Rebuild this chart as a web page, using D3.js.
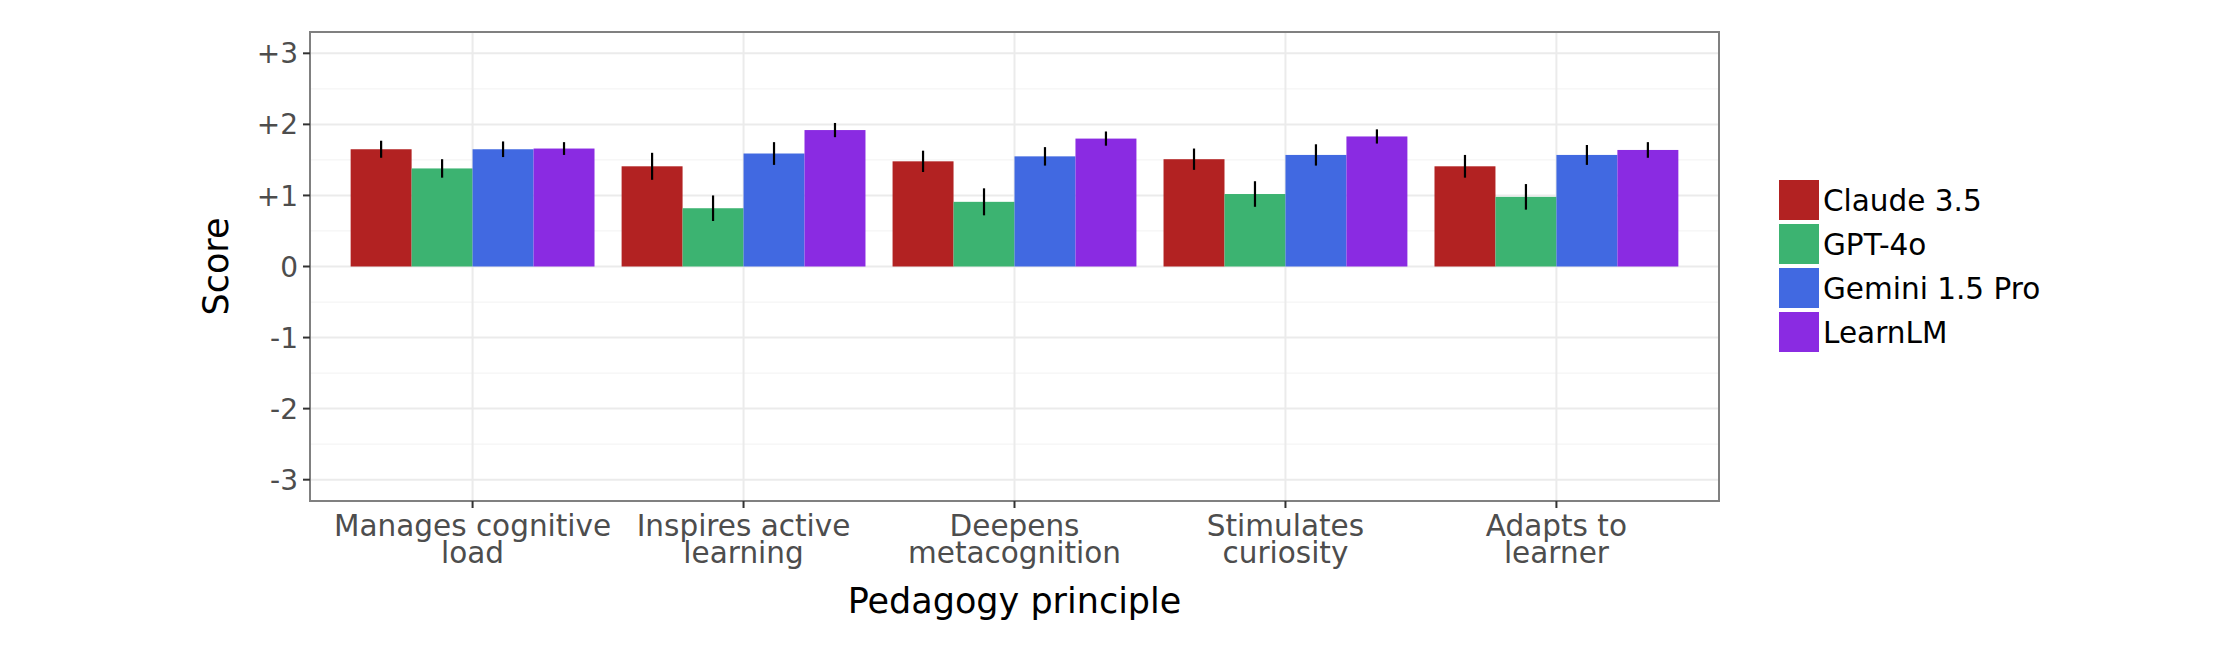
<!DOCTYPE html>
<html>
<head>
<meta charset="utf-8">
<script src="https://cdn.jsdelivr.net/npm/d3@7"></script>
<style>
  body { margin: 0; background: #fff; }
  svg { font-family: "DejaVu Sans", sans-serif; }
</style>
</head>
<body>
<div id="chart"></div>
<script>
const principles = [
    ['Manages cognitive', 'load'],
    ['Inspires active', 'learning'],
    ['Deepens', 'metacognition'],
    ['Stimulates', 'curiosity'],
    ['Adapts to', 'learner']
];
const models = ['Claude 3.5', 'GPT-4o', 'Gemini 1.5 Pro', 'LearnLM'];
const colors = ['#B22222', '#3CB371', '#4169E1', '#8A2BE2'];

// mean scores, one array per model, in principle order
const claude = [1.65, 1.41, 1.48, 1.51, 1.41];
const gpt4o = [1.38, 0.82, 0.91, 1.02, 0.98];
const gemini = [1.65, 1.59, 1.55, 1.57, 1.57];
const learnlm = [1.66, 1.92, 1.80, 1.83, 1.64];

// error bar half-widths
const claudeErr = [0.12, 0.19, 0.15, 0.15, 0.16];
const gpt4oErr = [0.13, 0.18, 0.19, 0.18, 0.18];
const geminiErr = [0.11, 0.16, 0.13, 0.15, 0.14];
const learnlmErr = [0.09, 0.10, 0.10, 0.10, 0.11];

const yTicks = [-3, -2, -1, 0, 1, 2, 3];
const yTickLabels = ['-3', '-2', '-1', '0', '+1', '+2', '+3'];
const yMinor = [-2.5, -1.5, -0.5, 0.5, 1.5, 2.5];

const values = [claude, gpt4o, gemini, learnlm];
const errs = [claudeErr, gpt4oErr, geminiErr, learnlmErr];

const width = 2240, height = 660;
const panel = { left: 310, right: 1719, top: 32, bottom: 501 };

const svg = d3.select('#chart').append('svg')
    .attr('width', width)
    .attr('height', height);

const keys = principles.map((d, i) => i);
// category centers sit 0.6 steps from each edge, like ggplot's discrete expand
const x = d3.scalePoint()
    .domain(keys)
    .range([panel.left, panel.right])
    .padding(0.6);
const step = x.step();
const xSub = d3.scaleBand()
    .domain(d3.range(models.length))
    .range([-step * 0.45, step * 0.45]);

const y = d3.scaleLinear()
    .domain([-3.3, 3.3])
    .range([panel.bottom, panel.top]);

// grid
const grid = svg.append('g');
grid.selectAll('.minor')
    .data(yMinor)
    .enter().append('line')
    .attr('x1', panel.left).attr('x2', panel.right)
    .attr('y1', d => y(d)).attr('y2', d => y(d))
    .attr('stroke', '#F5F5F5')
    .attr('stroke-width', 1.2);
grid.selectAll('.major')
    .data(yTicks)
    .enter().append('line')
    .attr('x1', panel.left).attr('x2', panel.right)
    .attr('y1', d => y(d)).attr('y2', d => y(d))
    .attr('stroke', '#EBEBEB')
    .attr('stroke-width', 2);
grid.selectAll('.vmajor')
    .data(keys)
    .enter().append('line')
    .attr('x1', d => x(d)).attr('x2', d => x(d))
    .attr('y1', panel.top).attr('y2', panel.bottom)
    .attr('stroke', '#EBEBEB')
    .attr('stroke-width', 2);

// bars
const groups = svg.append('g').selectAll('g')
    .data(keys)
    .enter().append('g');

groups.selectAll('rect')
    .data(i => models.map((m, j) => ({ i, j, v: values[j][i] })))
    .enter().append('rect')
    .attr('x', d => x(d.i) + xSub(d.j))
    .attr('width', xSub.bandwidth())
    .attr('y', d => y(Math.max(0, d.v)))
    .attr('height', d => Math.abs(y(d.v) - y(0)))
    .attr('fill', d => colors[d.j]);

groups.selectAll('line')
    .data(i => models.map((m, j) => ({ i, j, v: values[j][i], e: errs[j][i] })))
    .enter().append('line')
    .attr('x1', d => x(d.i) + xSub(d.j) + xSub.bandwidth() / 2)
    .attr('x2', d => x(d.i) + xSub(d.j) + xSub.bandwidth() / 2)
    .attr('y1', d => y(d.v - d.e))
    .attr('y2', d => y(d.v + d.e))
    .attr('stroke', '#000')
    .attr('stroke-width', 2.2);

// panel border
svg.append('rect')
    .attr('x', panel.left).attr('y', panel.top)
    .attr('width', panel.right - panel.left)
    .attr('height', panel.bottom - panel.top)
    .attr('fill', 'none')
    .attr('stroke', '#808080')
    .attr('stroke-width', 2);

// y axis
const yAxis = svg.append('g');
yAxis.selectAll('line')
    .data(yTicks)
    .enter().append('line')
    .attr('x1', panel.left - 7).attr('x2', panel.left)
    .attr('y1', d => y(d)).attr('y2', d => y(d))
    .attr('stroke', '#333')
    .attr('stroke-width', 2);
yAxis.selectAll('text')
    .data(yTicks)
    .enter().append('text')
    .attr('x', panel.left - 12)
    .attr('y', d => y(d))
    .attr('dy', '0.36em')
    .attr('text-anchor', 'end')
    .attr('font-size', 28)
    .attr('fill', '#4D4D4D')
    .text((d, i) => yTickLabels[i]);

// x axis
const xAxis = svg.append('g');
xAxis.selectAll('line')
    .data(keys)
    .enter().append('line')
    .attr('x1', d => x(d)).attr('x2', d => x(d))
    .attr('y1', panel.bottom).attr('y2', panel.bottom + 7)
    .attr('stroke', '#333')
    .attr('stroke-width', 2);
const xLabels = xAxis.selectAll('text')
    .data(keys)
    .enter().append('text')
    .attr('text-anchor', 'middle')
    .attr('font-size', 29.5)
    .attr('fill', '#4D4D4D');
xLabels.selectAll('tspan')
    .data(i => principles[i].map(t => ({ i, t })))
    .enter().append('tspan')
    .attr('x', d => x(d.i))
    .attr('y', (d, k) => 536 + k * 27)
    .text(d => d.t);

// axis titles
svg.append('text')
    .attr('x', (panel.left + panel.right) / 2)
    .attr('y', 613)
    .attr('text-anchor', 'middle')
    .attr('font-size', 35)
    .attr('fill', '#000')
    .text('Pedagogy principle');

svg.append('text')
    .attr('transform', `translate(228, ${(panel.top + panel.bottom) / 2}) rotate(-90)`)
    .attr('text-anchor', 'middle')
    .attr('font-size', 35)
    .attr('fill', '#000')
    .text('Score');

// legend
const legend = svg.append('g').attr('transform', 'translate(1779, 180)');
const item = legend.selectAll('g')
    .data(models)
    .enter().append('g')
    .attr('transform', (d, i) => `translate(0, ${i * 44})`);
item.append('rect')
    .attr('width', 40).attr('height', 40)
    .attr('fill', (d, i) => colors[i]);
item.append('text')
    .attr('x', 44).attr('y', 20)
    .attr('dy', '0.36em')
    .attr('font-size', 29.5)
    .attr('fill', '#000')
    .text(d => d);
</script>
</body>
</html>
